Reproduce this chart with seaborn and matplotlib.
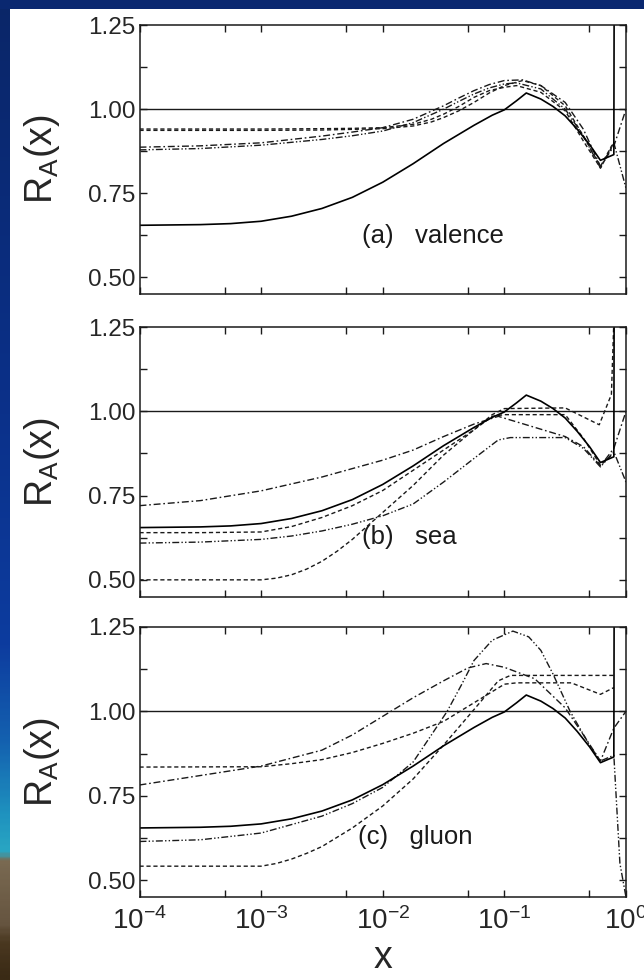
import numpy as np
import pandas as pd
import matplotlib
matplotlib.use("Agg")
import matplotlib.pyplot as plt
import seaborn as sns
from matplotlib.ticker import LogLocator, MultipleLocator, NullFormatter, FixedLocator
from matplotlib.patches import Rectangle
from matplotlib.colors import LinearSegmentedColormap

# ---------------------------------------------------------------- data
# all curves are given as log10(x) -> R_A(x)

# reference (solid) curve, identical in the three panels
SOLID_LOGX = [-4, -3.5, -3.25, -3, -2.75, -2.5, -2.25, -2, -1.75, -1.5, -1.25, -1.1, -1, -0.9,
              -0.82, -0.7, -0.6, -0.5, -0.4, -0.3, -0.21, -0.1, -0.097, -0.09]
SOLID_R = [0.655, 0.657, 0.66, 0.667, 0.682, 0.705, 0.738, 0.783, 0.838, 0.898, 0.952, 0.982,
           0.998, 1.025, 1.048, 1.03, 1.008, 0.98, 0.94, 0.895, 0.848, 0.865, 1.40, 1.60]

# (a) valence
VAL_D1_LOGX = [-4, -3, -2.5, -2.25, -2, -1.75, -1.6, -1.5, -1.375, -1.25, -1.125, -1.0, -0.85,
               -0.7, -0.5, -0.35, -0.21, -0.12, -0.097]
VAL_D1_R = [0.937, 0.937, 0.938, 0.94, 0.942, 0.95, 0.962, 0.975, 0.995, 1.02, 1.048, 1.07, 1.085,
            1.07, 1.01, 0.92, 0.83, 0.89, 0.90]
VAL_D2_LOGX = [-4, -3, -2.5, -2.25, -2, -1.75, -1.6, -1.5, -1.375, -1.25, -1.125, -1.0, -0.9,
               -0.7, -0.5, -0.35, -0.21, -0.12, -0.097]
VAL_D2_R = [0.941, 0.941, 0.942, 0.943, 0.945, 0.955, 0.97, 0.985, 1.008, 1.035, 1.055, 1.065, 1.07,
            1.05, 0.995, 0.905, 0.825, 0.885, 0.90]
VAL_DD1_LOGX = [-4, -3.5, -3, -2.5, -2.25, -2, -1.75, -1.5, -1.375, -1.25, -1.125, -1.0, -0.85,
                -0.7, -0.5, -0.35, -0.21, -0.1, 0]
VAL_DD1_R = [0.887, 0.891, 0.9, 0.92, 0.932, 0.945, 0.97, 1.01, 1.033, 1.055, 1.073, 1.085, 1.087,
             1.07, 1.02, 0.94, 0.83, 0.89, 1.0]
VAL_DD2_LOGX = [-4, -3.5, -3, -2.5, -2.25, -2, -1.75, -1.5, -1.375, -1.25, -1.125, -1.0, -0.9,
                -0.7, -0.5, -0.35, -0.21, -0.1, 0]
VAL_DD2_R = [0.879, 0.883, 0.893, 0.91, 0.921, 0.935, 0.96, 1.0, 1.023, 1.045, 1.063, 1.075, 1.078,
             1.06, 1.0, 0.92, 0.825, 0.9, 0.765]

# (b) sea
SEA_D1_LOGX = [-4, -3.5, -3, -2.75, -2.5, -2.25, -2, -1.75, -1.5, -1.25, -1.1, -1.0, -0.5,
               -0.35, -0.21, -0.1]
SEA_D1_R = [0.64, 0.64, 0.642, 0.658, 0.685, 0.72, 0.765, 0.825, 0.885, 0.945, 0.985, 0.99, 0.99,
            0.92, 0.84, 0.875]
SEA_D2_LOGX = [-4, -3, -2.875, -2.75, -2.625, -2.5, -2.375, -2.25, -2.125, -2, -1.875, -1.75,
               -1.5, -1.25, -1.1, -1.0, -0.5, -0.22, -0.12, -0.097]
SEA_D2_R = [0.50, 0.50, 0.505, 0.515, 0.532, 0.555, 0.585, 0.62, 0.66, 0.70, 0.74, 0.78,
            0.87, 0.945, 0.99, 1.008, 1.01, 0.96, 1.05, 1.30]
SEA_DD1_LOGX = [-4, -3.5, -3, -2.5, -2, -1.75, -1.5, -1.25, -1.05, -0.5, -0.35, -0.21, -0.1, 0]
SEA_DD1_R = [0.72, 0.735, 0.764, 0.805, 0.855, 0.885, 0.925, 0.962, 0.985, 0.925, 0.895, 0.838,
             0.89, 1.0]
SEA_DD2_LOGX = [-4, -3.5, -3, -2.75, -2.5, -2.25, -2, -1.75, -1.5, -1.25, -1.05, -0.95, -0.5,
                -0.35, -0.21, -0.1, 0]
SEA_DD2_R = [0.609, 0.612, 0.62, 0.63, 0.645, 0.665, 0.69, 0.725, 0.79, 0.86, 0.915, 0.922, 0.922,
             0.89, 0.835, 0.88, 0.79]

# (c) gluon
GLU_D1_LOGX = [-4, -3, -2.75, -2.5, -2.25, -2, -1.75, -1.5, -1.25, -1.0, -0.9, -0.45, -0.21, -0.1]
GLU_D1_R = [0.835, 0.836, 0.845, 0.857, 0.878, 0.905, 0.935, 0.97, 1.025, 1.08, 1.084, 1.084,
            1.05, 1.07]
GLU_D2_LOGX = [-4, -3, -2.875, -2.75, -2.625, -2.5, -2.25, -2, -1.75, -1.5, -1.25, -1.05, -0.95, -0.1]
GLU_D2_R = [0.542, 0.542, 0.55, 0.563, 0.58, 0.60, 0.655, 0.72, 0.80, 0.90, 1.005, 1.09, 1.106, 1.106]
GLU_DD1_LOGX = [-4, -3.5, -3, -2.5, -2.25, -2, -1.75, -1.5, -1.3, -1.15, -1.0, -0.75, -0.5, -0.35,
                -0.21, -0.1, 0]
GLU_DD1_R = [0.782, 0.81, 0.838, 0.885, 0.93, 0.985, 1.04, 1.09, 1.128, 1.141, 1.13, 1.096, 1.01,
             0.93, 0.853, 0.95, 1.0]
GLU_DD2_LOGX = [-4, -3.5, -3, -2.5, -2.25, -2, -1.75, -1.6, -1.47, -1.35, -1.25, -1.1, -0.93, -0.8,
                -0.7, -0.6, -0.46, -0.3, -0.21, -0.1, -0.05, 0]
GLU_DD2_R = [0.615, 0.62, 0.64, 0.69, 0.727, 0.775, 0.85, 0.93, 1.0, 1.08, 1.15, 1.21, 1.237, 1.22,
             1.18, 1.11, 1.0, 0.9, 0.853, 0.87, 0.55, 0.45]

PANEL_LABELS = ["(a)   valence", "(b)   sea", "(c)   gluon"]
X_TICKS = [1e-4, 1e-3, 1e-2, 1e-1, 1e0]
X_TICK_LABELS = [r"$10^{-4}$", r"$10^{-3}$", r"$10^{-2}$", r"$10^{-1}$", r"$10^{0}$"]
Y_TICKS = [0.50, 0.75, 1.00, 1.25]
Y_TICK_LABELS = ["0.50", "0.75", "1.00", "1.25"]

# ---------------------------------------------------------------- style
sns.set_theme(style="ticks")
plt.rcParams["font.family"] = ["Liberation Sans", "DejaVu Sans"]
plt.rcParams["mathtext.fontset"] = "custom"
plt.rcParams["mathtext.rm"] = "Liberation Sans"
plt.rcParams["mathtext.it"] = "Liberation Sans"
plt.rcParams["mathtext.default"] = "regular"

INK = "#1a1a1a"
DASH = (0, (3.0, 2.0))
DASHDOT = (0, (5.0, 2.0, 1.2, 2.0))
DASHDOTDOT = (0, (5.0, 1.6, 1.0, 1.6, 1.0, 1.6))

W, H = 644, 980
fig = plt.figure(figsize=(W / 100, H / 100), dpi=100)
fig.patch.set_facecolor("white")

# slide frame: navy band on top and a coloured strip on the left
bg = fig.add_axes([0, 0, 1, 1], zorder=-5)
bg.set_xlim(0, W)
bg.set_ylim(H, 0)
bg.axis("off")
strip_cmap = LinearSegmentedColormap.from_list(
    "strip",
    [(0.0, "#0a2668"), (0.40, "#0b3088"), (0.66, "#0d3c9f"), (0.76, "#1462b0"),
     (0.835, "#1f93bf"), (0.872, "#2aa7c3"), (0.880, "#7a6a52"), (0.945, "#665540"),
     (0.965, "#4a3820"), (1.0, "#3a2a15")])
bg.imshow(np.linspace(0, 1, 400).reshape(-1, 1), cmap=strip_cmap, aspect="auto",
          extent=[0, 10, H, 0], interpolation="bilinear")
bg.add_patch(Rectangle((0, 0), W, 9, color="#0a2870", lw=0))

left = 139.5 / W
width = (626.0 - 139.5) / W
panel_px = [(25.0, 294.3), (327.0, 596.7), (626.7, 897.3)]
label_pos = [(0.457, 0.216), (0.457, 0.221), (0.449, 0.223)]

panels = [
    [(VAL_D1_LOGX, VAL_D1_R, DASH), (VAL_D2_LOGX, VAL_D2_R, DASH),
     (VAL_DD1_LOGX, VAL_DD1_R, DASHDOT), (VAL_DD2_LOGX, VAL_DD2_R, DASHDOTDOT)],
    [(SEA_D1_LOGX, SEA_D1_R, DASH), (SEA_D2_LOGX, SEA_D2_R, DASH),
     (SEA_DD1_LOGX, SEA_DD1_R, DASHDOT), (SEA_DD2_LOGX, SEA_DD2_R, DASHDOTDOT)],
    [(GLU_D1_LOGX, GLU_D1_R, DASH), (GLU_D2_LOGX, GLU_D2_R, DASH),
     (GLU_DD1_LOGX, GLU_DD1_R, DASHDOT), (GLU_DD2_LOGX, GLU_DD2_R, DASHDOTDOT)],
]

for i, (top_px, bot_px) in enumerate(panel_px):
    ax = fig.add_axes([left, 1 - bot_px / H, width, (bot_px - top_px) / H])
    ax.set_facecolor("white")

    ax.axhline(1.0, color=INK, lw=1.0, zorder=1)
    for logx, r, ls in panels[i]:
        df = pd.DataFrame({"x": np.power(10.0, logx), "R": r})
        sns.lineplot(data=df, x="x", y="R", ax=ax, color=INK, lw=1.0,
                     linestyle=ls, estimator=None, sort=False)
    sol = pd.DataFrame({"x": np.power(10.0, SOLID_LOGX), "R": SOLID_R})
    sns.lineplot(data=sol, x="x", y="R", ax=ax, color="black", lw=1.2,
                 estimator=None, sort=False)

    ax.set_xscale("log")
    ax.set_xlim(1e-4, 1e0)
    ax.set_ylim(0.45, 1.25)

    ax.xaxis.set_major_locator(FixedLocator(X_TICKS))
    ax.xaxis.set_minor_locator(LogLocator(base=10, subs=[5.0], numticks=20))
    ax.xaxis.set_minor_formatter(NullFormatter())
    ax.yaxis.set_major_locator(FixedLocator(Y_TICKS))
    ax.yaxis.set_minor_locator(MultipleLocator(0.125))
    ax.set_yticklabels(Y_TICK_LABELS)

    ax.tick_params(which="both", direction="in", top=True, right=True,
                   color=INK, width=1.0)
    ax.tick_params(which="major", length=5, labelsize=17.5, pad=3)
    ax.tick_params(which="minor", length=5)
    for s in ax.spines.values():
        s.set_color(INK)
        s.set_linewidth(1.1)

    if i == 2:
        ax.set_xticklabels(X_TICK_LABELS)
        ax.tick_params(axis="x", which="major", labelsize=20, pad=7)
        ax.set_xlabel("x", fontsize=27, labelpad=4)
    else:
        ax.set_xticklabels([])
        ax.set_xlabel("")

    ax.set_ylabel(r"R$_\mathregular{A}$(x)", fontsize=27)
    ax.yaxis.label.set_va("center")
    ax.yaxis.set_label_coords(-0.2, 0.5)

    ax.text(label_pos[i][0], label_pos[i][1], PANEL_LABELS[i], transform=ax.transAxes,
            fontsize=18.5, ha="left", va="center", color=INK)

fig.savefig("out.png", dpi=100, facecolor=fig.get_facecolor())
